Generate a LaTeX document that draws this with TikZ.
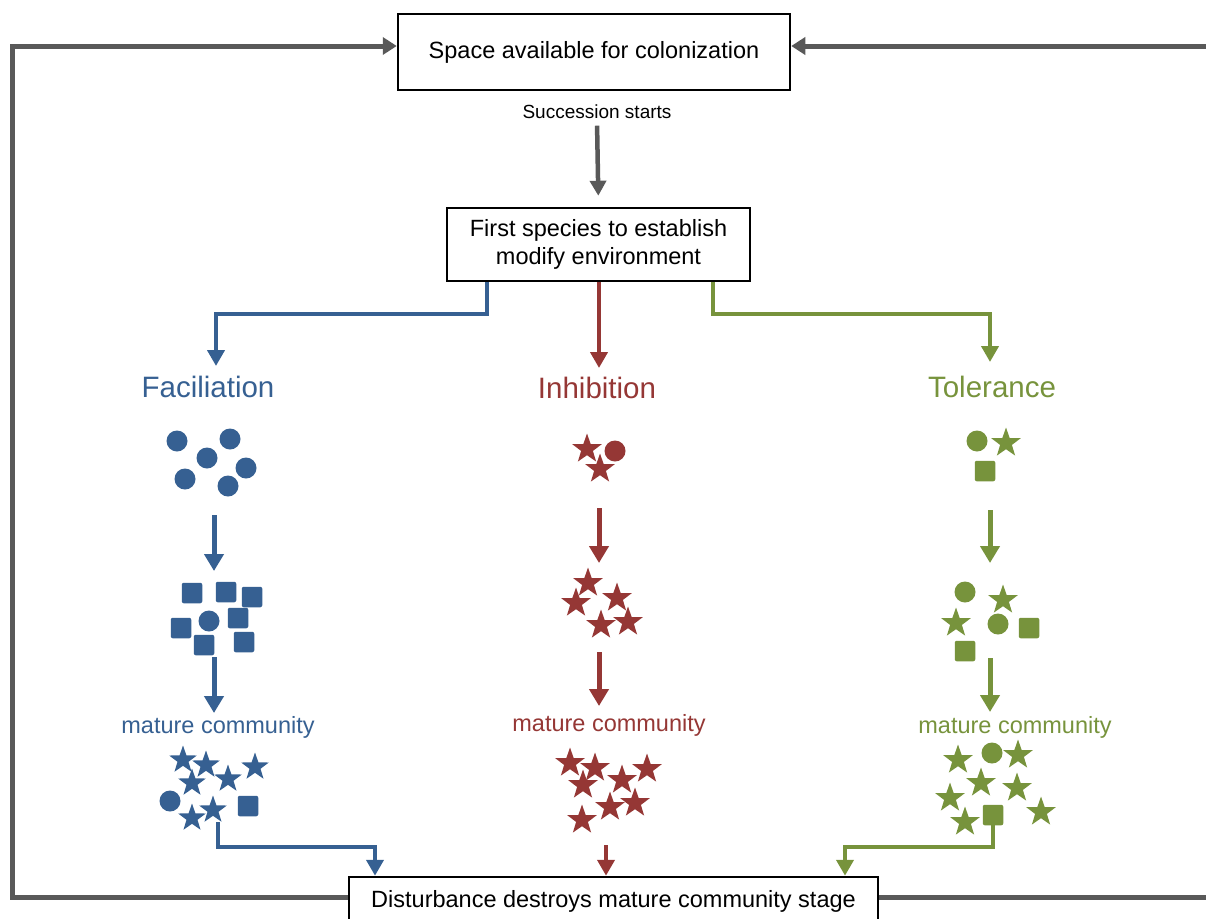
\documentclass[tikz,border=0pt]{standalone}
\usepackage{fontspec}
\setmainfont{Liberation Sans}
\usetikzlibrary{shapes.geometric,arrows.meta}
\definecolor{cblue}{RGB}{54,96,146}
\definecolor{cred}{RGB}{149,55,53}
\definecolor{cgreen}{RGB}{119,147,60}
\definecolor{cgray}{RGB}{89,89,89}
\begin{document}
\begin{tikzpicture}[x=1pt,y=-1pt,
  box/.style={draw=black,line width=2.5pt,fill=white,inner sep=0pt,align=center,
    font=\fontsize{23.5}{28}\selectfont},
  loopline/.style={draw=cgray,line width=5pt,-{Triangle[width=17pt,length=14pt]}},
  grayarrow/.style={draw=cgray,line width=4.5pt,-{Triangle[width=16pt,length=15pt]}},
  flow/.style={line width=4pt,-{Triangle[width=17pt,length=16pt]}},
  stagearrow/.style={line width=5pt,-{Triangle[width=19pt,length=17pt]}},
  biglab/.style={anchor=base,font=\fontsize{29.5}{32}\selectfont},
  matlab/.style={anchor=base,font=\fontsize{23.5}{26}\selectfont},
  dot/.style={circle,fill,inner sep=0pt,minimum size=21pt},
  sq/.style={rectangle,fill,rounded corners=2pt,inner sep=0pt,minimum size=20.5pt},
  st/.style={star,star points=5,star point ratio=2.5,fill,inner sep=0pt,minimum size=31pt},
  sst/.style={st,minimum size=29pt},
]
\useasboundingbox (0,0) rectangle (1206,918);
\clip (0,0) rectangle (1206,918);

% main boxes and texts
\node[box,minimum width=392pt,minimum height=76pt] (top) at (594,52) {Space available for colonization};
\node[anchor=base,font=\fontsize{19}{22}\selectfont] (succ) at (597,118) {Succession starts};
\node[box,minimum width=303pt,minimum height=73pt] (first) at (598.5,244.5) {First species to establish\\modify environment};
\node[box,minimum width=529pt,minimum height=48pt] (bot) at (613.5,901) {Disturbance destroys mature community stage};

\draw[grayarrow,shorten <=4pt,shorten >=11pt] (succ.south) -- (first.north);

% loop
\coordinate (L1) at (12,897);
\coordinate (L2) at (12,46);
\coordinate (R1) at (1230,897);
\coordinate (R2) at (1230,46);
\draw[loopline] (bot.west |- L1) -- (L1) -- (L2) -- (L2 -| top.west);
\draw[loopline] (bot.east |- R1) -- (R1) -- (R2) -- (R2 -| top.east);

% labels
\node[biglab,text=cblue] (fac) at (208,397) {Faciliation};
\node[biglab,text=cred] (inh) at (597,398) {Inhibition};
\node[biglab,text=cgreen] (tol) at (992,397) {Tolerance};

% branches from first box
\coordinate (b1) at (487,314);
\coordinate (facin) at (216,366);
\draw[flow,cblue] (first.south -| b1) -- (b1) -| (facin);
\coordinate (inhin) at (599,368);
\draw[flow,cred] (first.south -| inhin) -- (inhin);
\coordinate (g1) at (713,314);
\coordinate (tolin) at (990,362);
\draw[flow,cgreen] (first.south -| g1) -- (g1) -| (tolin);

% stage arrows
\coordinate (ba1) at (214,515); \coordinate (ba2) at (214,571);
\coordinate (ba3) at (214,657); \coordinate (ba4) at (214,713);
\coordinate (ra1) at (599,508); \coordinate (ra2) at (599,563);
\coordinate (ra3) at (599,652); \coordinate (ra4) at (599,706);
\coordinate (ga1) at (990,510); \coordinate (ga2) at (990,563);
\coordinate (ga3) at (990,658); \coordinate (ga4) at (990,712);
\draw[stagearrow,cblue] (ba1) -- (ba2);
\draw[stagearrow,cblue] (ba3) -- (ba4);
\draw[stagearrow,cred] (ra1) -- (ra2);
\draw[stagearrow,cred] (ra3) -- (ra4);
\draw[stagearrow,cgreen] (ga1) -- (ga2);
\draw[stagearrow,cgreen] (ga3) -- (ga4);

% mature community labels
\node[matlab,text=cblue] (mb) at (218,733) {mature community};
\node[matlab,text=cred] (mr) at (609,731) {mature community};
\node[matlab,text=cgreen] (mg) at (1015,733) {mature community};

% blue clusters
\begin{scope}[cblue]
\foreach \p in {(177,441),(230,439),(207,458),(246,468),(185,479),(228,486),(209,621),(170,801)}
  \node[dot] at \p {};
\foreach \p in {(192,593),(226,592),(252,597),(181,628),(238,618),(204,645),(244,642),(248,806)}
  \node[sq] at \p {};
\foreach \p in {(183,760),(206,765),(192,783),(228,779),(255,767),(213,810),(192,818)}
  \node[sst] at \p {};
\end{scope}

% red clusters
\begin{scope}[cred]
\node[dot] at (615,451) {};
\foreach \p in {(587,449),(600,469),(588,583),(576,603),(617,598),(601,625),(628,622),
  (570,763),(595,768),(647,769),(622,780),(583,785),(610,807),(635,803),(582,820)}
  \node[st] at \p {};
\end{scope}

% green clusters
\begin{scope}[cgreen]
\foreach \p in {(977,441),(965,592),(998,624),(992,753)}
  \node[dot] at \p {};
\foreach \p in {(985,471),(1029,628),(965,651),(993,815)}
  \node[sq] at \p {};
\foreach \p in {(1006,443),(1003,600),(956,623),(958,760),(1018,755),(981,783),(1017,788),(950,798),(1041,812),(965,822)}
  \node[st] at \p {};
\end{scope}

% connectors to bottom box
\coordinate (bb1) at (218,822);
\coordinate (bx) at (375,847);
\draw[flow,cblue] (bb1) |- (bx) -- (bot.north -| bx);
\coordinate (rc) at (606,845);
\draw[flow,cred] (rc) -- (bot.north -| rc);
\coordinate (gc) at (993,825);
\coordinate (gx) at (845,847);
\draw[flow,cgreen] (gc) |- (gx) -- (bot.north -| gx);
\end{tikzpicture}
\end{document}
